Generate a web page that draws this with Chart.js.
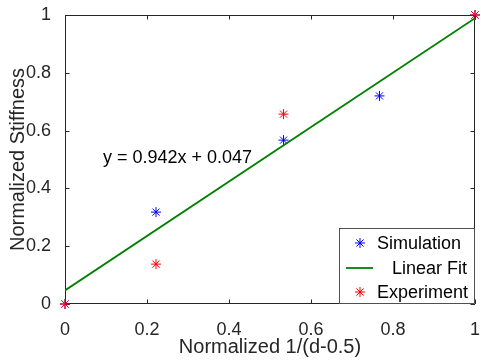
<!DOCTYPE html>
<html>
<head>
<meta charset="utf-8">
<script src="https://cdn.jsdelivr.net/npm/chart.js@4"></script>
<style>
  html, body { margin: 0; padding: 0; background: #fff; }
  #wrap { width: 481px; height: 362px; }
</style>
</head>
<body>
<div id="wrap"><canvas id="myChart" width="481" height="362"></canvas></div>
<script>
// normalized 1/(d-0.5) against normalized stiffness
const simX = [0, 0.222, 0.533, 0.767, 1]
const simY = [0, 0.318, 0.567, 0.72, 1]
const expX = [0, 0.222, 0.533, 1]
const expY = [0, 0.138, 0.657, 1]

// least squares fit shown in the annotation
const fitSlope = 0.942
const fitIntercept = 0.047
const fitX = [0, 1]

const xTicks = [0, 0.2, 0.4, 0.6, 0.8, 1]
const xTickLabels = ["0", "0.2", "0.4", "0.6", "0.8", "1"]
const yTicks = [0, 0.2, 0.4, 0.6, 0.8, 1]
const yTickLabels = ["0", "0.2", "0.4", "0.6", "0.8", "1"]

const FONT = "'Liberation Sans', Arial, Helvetica, sans-serif"
const AXIS_COLOR = "#262626"

const toPoints = (xs, ys) => xs.map((x, i) => ({ x: x, y: ys[i] }))

// box around the axes with inward ticks on every side
const framePlugin = {
	id: "frame",
	beforeDatasetsDraw(chart) {
		const { ctx, chartArea: a, scales } = chart
		const len = 4.5
		ctx.save()
		ctx.strokeStyle = AXIS_COLOR
		ctx.lineWidth = 1
		ctx.strokeRect(a.left + 0.5, a.top + 0.5, a.right - a.left - 1, a.bottom - a.top - 1)
		ctx.beginPath()
		xTicks.forEach(v => {
			const px = Math.round(scales.x.getPixelForValue(v)) + 0.5
			ctx.moveTo(px, a.bottom); ctx.lineTo(px, a.bottom - len)
			ctx.moveTo(px, a.top); ctx.lineTo(px, a.top + len)
		})
		yTicks.forEach(v => {
			const py = Math.round(scales.y.getPixelForValue(v)) + 0.5
			ctx.moveTo(a.left, py); ctx.lineTo(a.left + len, py)
			ctx.moveTo(a.right, py); ctx.lineTo(a.right - len, py)
		})
		ctx.stroke()
		ctx.restore()
	}
}

// equation text placed in data coordinates
const equationPlugin = {
	id: "equation",
	afterDatasetsDraw(chart) {
		const { ctx, scales } = chart
		const text = "y = " + fitSlope.toFixed(3) + "x + " + fitIntercept.toFixed(3)
		ctx.save()
		ctx.font = "18px " + FONT
		ctx.fillStyle = "#000"
		ctx.textAlign = "left"
		ctx.textBaseline = "middle"
		ctx.fillText(text, scales.x.getPixelForValue(0.0925), scales.y.getPixelForValue(0.505))
		ctx.restore()
	}
}

// legend box in the lower right corner of the axes
const legendBoxPlugin = {
	id: "legendBox",
	afterDraw(chart) {
		const { ctx, chartArea: a } = chart
		const w = 136, h = 76
		const left = a.right - w, top = a.bottom - h
		const rows = [15, 40, 64]
		const textX = [38, 53, 38]
		ctx.save()
		ctx.fillStyle = "#fff"
		ctx.fillRect(left, top, w, h)
		ctx.strokeStyle = AXIS_COLOR
		ctx.lineWidth = 0.8
		ctx.strokeRect(left + 0.5, top + 0.5, w - 1, h - 1)
		ctx.font = "18px " + FONT
		ctx.textBaseline = "middle"
		ctx.textAlign = "left"
		chart.data.datasets.forEach((ds, i) => {
			const cy = top + rows[i]
			ctx.strokeStyle = ds.borderColor
			if (ds.showLine) {
				ctx.lineWidth = ds.borderWidth
				ctx.beginPath()
				ctx.moveTo(left + 7, cy)
				ctx.lineTo(left + 34, cy)
				ctx.stroke()
			} else {
				ctx.lineWidth = ds.pointBorderWidth
				Chart.helpers.drawPoint(ctx, {
					pointStyle: "star",
					radius: ds.pointRadius,
					borderWidth: ds.pointBorderWidth
				}, left + 21, cy)
			}
			ctx.fillStyle = "#000"
			ctx.fillText(ds.label, left + textX[i], cy + 1)
		})
		ctx.restore()
	}
}

new Chart("myChart", {
	type: "scatter",
	data: {
		datasets: [
			{
				label: "Simulation",
				data: toPoints(simX, simY),
				pointStyle: "star",
				pointRadius: 5,
				pointBorderWidth: 1,
				borderColor: "#0000ff",
				backgroundColor: "#0000ff",
				showLine: false,
				clip: false,
				order: 2
			},
			{
				label: "Linear Fit",
				data: toPoints(fitX, fitX.map(x => fitSlope * x + fitIntercept)),
				showLine: true,
				borderColor: "#008000",
				borderWidth: 1.8,
				pointRadius: 0,
				order: 1
			},
			{
				label: "Experiment",
				data: toPoints(expX, expY),
				pointStyle: "star",
				pointRadius: 5,
				pointBorderWidth: 1,
				borderColor: "#ff0000",
				backgroundColor: "#ff0000",
				showLine: false,
				clip: false,
				order: 0
			}
		]
	},
	options: {
		responsive: false,
		animation: false,
		layout: { padding: { top: 15, right: 5, left: 0, bottom: 0 } },
		plugins: {
			legend: { display: false },
			tooltip: { enabled: false }
		},
		scales: {
			x: {
				type: "linear",
				min: 0,
				max: 1,
				afterBuildTicks: s => { s.ticks = xTicks.map(v => ({ value: v })) },
				afterFit: s => {
					s.height = 58
					s.paddingLeft = 0
					s.paddingRight = 0
				},
				grid: { display: false },
				border: { display: false },
				ticks: {
					padding: 7,
					color: AXIS_COLOR,
					font: { family: FONT, size: 18 },
					maxRotation: 0,
					callback: v => xTickLabels[xTicks.indexOf(v)]
				},
				title: {
					display: true,
					text: "Normalized 1/(d-0.5)",
					color: AXIS_COLOR,
					font: { family: FONT, size: 20 },
					padding: { top: 2, bottom: 3 }
				}
			},
			y: {
				type: "linear",
				min: 0,
				max: 1,
				afterBuildTicks: s => { s.ticks = yTicks.map(v => ({ value: v })) },
				afterFit: s => {
					s.width = 65
					s.paddingTop = 0
					s.paddingBottom = 0
				},
				grid: { display: false },
				border: { display: false },
				ticks: {
					padding: 6,
					color: AXIS_COLOR,
					font: { family: FONT, size: 18 },
					callback: v => yTickLabels[yTicks.indexOf(v)]
				},
				title: {
					display: true,
					text: "Normalized Stiffness",
					color: AXIS_COLOR,
					font: { family: FONT, size: 20 },
					padding: { top: 6, bottom: 0 }
				}
			}
		}
	},
	plugins: [framePlugin, equationPlugin, legendBoxPlugin]
})
</script>
</body>
</html>
